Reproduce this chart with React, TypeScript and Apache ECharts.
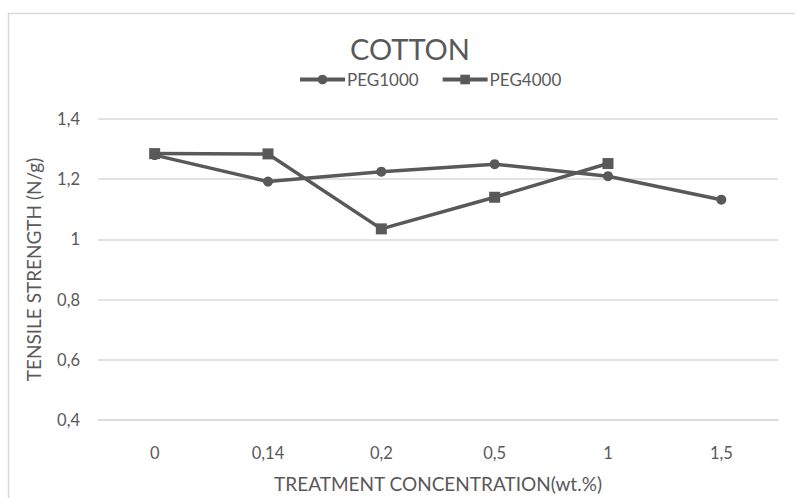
import React, { useEffect, useRef } from "react";
import * as echarts from "echarts";

const categories = ["0", "0,14", "0,2", "0,5", "1", "1,5"];
const peg1000 = [1.28, 1.192, 1.225, 1.25, 1.21, 1.132];
const peg4000: (number | null)[] = [1.285, 1.284, 1.035, 1.14, 1.252, null];
const yTicks = { min: 0.4, max: 1.4, interval: 0.2 };
const titleText = "COTTON";
const yName = "TENSILE STRENGTH (N/g)";
const xName = "TREATMENT CONCENTRATION(wt.%)";

const FONT = "Lato";
const TXT = "#595959";
const GRID = "#d9d9d9";

export default function App() {
  const ref = useRef<HTMLDivElement>(null);
  useEffect(() => {
    if (!ref.current) return;
    const chart = echarts.init(ref.current, undefined, { renderer: "svg" });
    chart.setOption({
      animation: false,
      backgroundColor: "#fff",
      textStyle: { fontFamily: FONT, color: TXT },
      title: {
        text: titleText,
        left: 405,
        textAlign: "center",
        top: 29,
        textStyle: { fontFamily: FONT, fontSize: 29, fontWeight: "normal", color: TXT },
      },
      legend: {
        top: 71,
        left: 298,
        padding: 0,
        itemWidth: 45,
        itemHeight: 12,
        itemGap: 22,
        lineStyle: { width: 4 },
        textStyle: { fontFamily: FONT, fontSize: 17, color: TXT, padding: [0, 0, 0, -3] },
        data: ["PEG1000", "PEG4000"],
      },
      grid: { left: 98, right: 17, top: 119, bottom: 77, containLabel: false },
      xAxis: {
        type: "category",
        data: categories,
        boundaryGap: true,
        axisLine: { show: true, lineStyle: { color: GRID, width: 1.5 } },
        axisTick: { show: false },
        axisLabel: { fontFamily: FONT, fontSize: 16.5, color: TXT, margin: 24 },
        name: xName,
        nameLocation: "middle",
        nameGap: 54,
        nameTextStyle: { fontFamily: FONT, fontSize: 19, color: TXT },
      },
      yAxis: {
        type: "value",
        min: yTicks.min,
        max: yTicks.max,
        interval: yTicks.interval,
        axisLine: { show: false },
        axisTick: { show: false },
        splitLine: { lineStyle: { color: GRID, width: 1.5 } },
        axisLabel: {
          fontFamily: FONT,
          fontSize: 16.5,
          color: TXT,
          margin: 18,
          formatter: (v: number) => String(Math.round(v * 10) / 10).replace(".", ","),
        },
        name: yName,
        nameLocation: "middle",
        nameGap: 55,
        nameRotate: 90,
        nameTextStyle: { fontFamily: FONT, fontSize: 19, color: TXT },
      },
      graphic: [
        { type: "line", shape: { x1: 8, y1: 13.5, x2: 795, y2: 13.5 }, style: { stroke: GRID, lineWidth: 1.5 } },
        { type: "line", shape: { x1: 8.5, y1: 13, x2: 8.5, y2: 498 }, style: { stroke: GRID, lineWidth: 1.5 } },
      ],
      series: [
        {
          name: "PEG1000",
          type: "line",
          data: peg1000,
          symbol: "circle",
          symbolSize: 10,
          lineStyle: { color: TXT, width: 3.5 },
          itemStyle: { color: TXT },
        },
        {
          name: "PEG4000",
          type: "line",
          data: peg4000,
          symbol: "rect",
          symbolSize: 11,
          lineStyle: { color: TXT, width: 3.5 },
          itemStyle: { color: TXT },
        },
      ],
    });
    return () => chart.dispose();
  }, []);
  return (
    <div
      ref={ref}
      style={{ position: "fixed", left: 0, top: 0, width: 795, height: 498 }}
    />
  );
}
